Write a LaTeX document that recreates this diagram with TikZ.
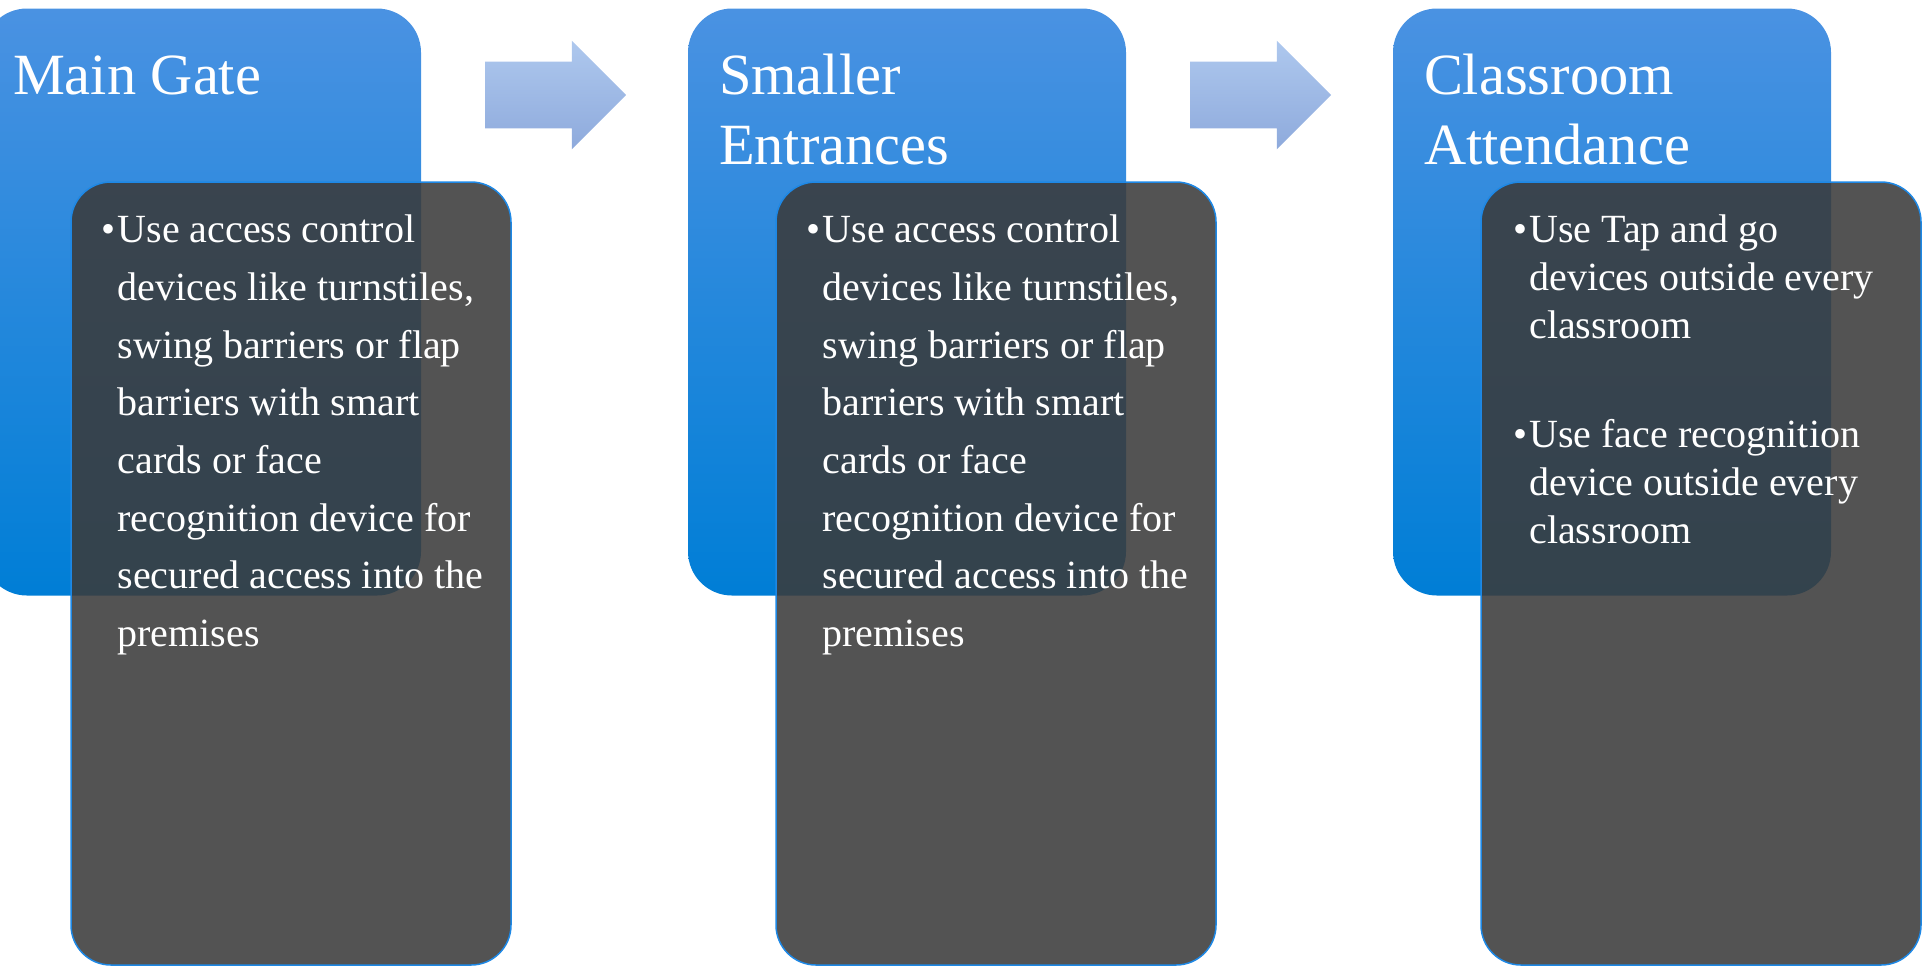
\documentclass[tikz,border=0pt]{standalone}
\usepackage{fontspec}
\setmainfont{Liberation Serif}
\usetikzlibrary{shapes,arrows,positioning}

\definecolor{stagetop}{RGB}{74,146,226}
\definecolor{stagebottom}{RGB}{0,126,214}
\definecolor{arrowtop}{RGB}{174,200,238}
\definecolor{arrowbottom}{RGB}{142,170,220}
\definecolor{detailgray}{RGB}{59,59,59}
\definecolor{detailline}{RGB}{30,136,229}

\tikzset{
  stage/.style={rectangle, rounded corners=22pt, top color=stagetop, bottom color=stagebottom, minimum width=219pt, minimum height=293.5pt, inner sep=0pt},
  detail/.style={rectangle, rounded corners=20pt, fill=detailgray, fill opacity=0.88, draw=detailline, line width=0.75pt, minimum width=220pt, minimum height=391.5pt, inner sep=0pt},
  flow/.style={single arrow, single arrow head extend=10.5pt, top color=arrowtop, bottom color=arrowbottom, minimum height=70.5pt, minimum width=54pt, inner xsep=0pt, inner ysep=16.5pt},
  title/.style={anchor=north west, inner sep=0pt, text=white, align=left, font=\fontsize{29.2}{35}\selectfont},
  bullets/.style={anchor=north west, inner sep=0pt, text=white, align=left, font=\fontsize{20}{#1}\selectfont},
  bullets/.default=28.85
}
% bullet hanging to the left of the first line, strut fixes the first baseline
\newcommand{\itemdot}{\llap{\textbullet\hspace{1pt}}\strut}

\begin{document}
\begin{tikzpicture}[x=0.5pt,y=-0.5pt]
\useasboundingbox (0,0) rectangle (1926,966);
% stages
\node (gate) [stage] at (202,302) {};
\node (entrance) [stage, node distance=352.5pt, right of=gate] {};
\node (classroom) [stage, node distance=352.5pt, right of=entrance] {};
% detail panels
\node (gatedetail) [detail] at (291,573.5) {};
\node (entrancedetail) [detail, node distance=352.5pt, right of=gatedetail] {};
\node (classroomdetail) [detail, node distance=352.5pt, right of=entrancedetail] {};
% arrows
\node (flow1) [flow] at (539,95) {};
\node (flow2) [flow, node distance=352.5pt, right of=flow1] {};
% titles
\node (gatetitle) [title] at ([shift={(15pt,-18.7pt)}]gate.north west) {\strut Main Gate};
\node (entrancetitle) [title] at ([shift={(15.5pt,-18.7pt)}]entrance.north west) {\strut Smaller\\Entrances};
\node (classroomtitle) [title] at ([shift={(15.5pt,-18.7pt)}]classroom.north west) {\strut Classroom\\Attendance};
% bullet texts
\node (gatetext) [bullets] at ([shift={(23.5pt,-10.3pt)}]gatedetail.north west)
  {\itemdot Use access control\\devices like turnstiles,\\swing barriers or flap\\barriers with smart\\cards or face\\recognition device for\\secured access into the\\premises};
\node (entrancetext) [bullets] at ([shift={(23.5pt,-10.3pt)}]entrancedetail.north west)
  {\itemdot Use access control\\devices like turnstiles,\\swing barriers or flap\\barriers with smart\\cards or face\\recognition device for\\secured access into the\\premises};
\node (tapgo) [bullets=24] at ([shift={(24.3pt,-13.5pt)}]classroomdetail.north west)
  {\itemdot Use Tap and go\\devices outside every\\classroom};
\node (facerec) [bullets=24] at ([shift={(24.3pt,-116.2pt)}]classroomdetail.north west)
  {\itemdot Use face recognition\\device outside every\\classroom};
\end{tikzpicture}
\end{document}
